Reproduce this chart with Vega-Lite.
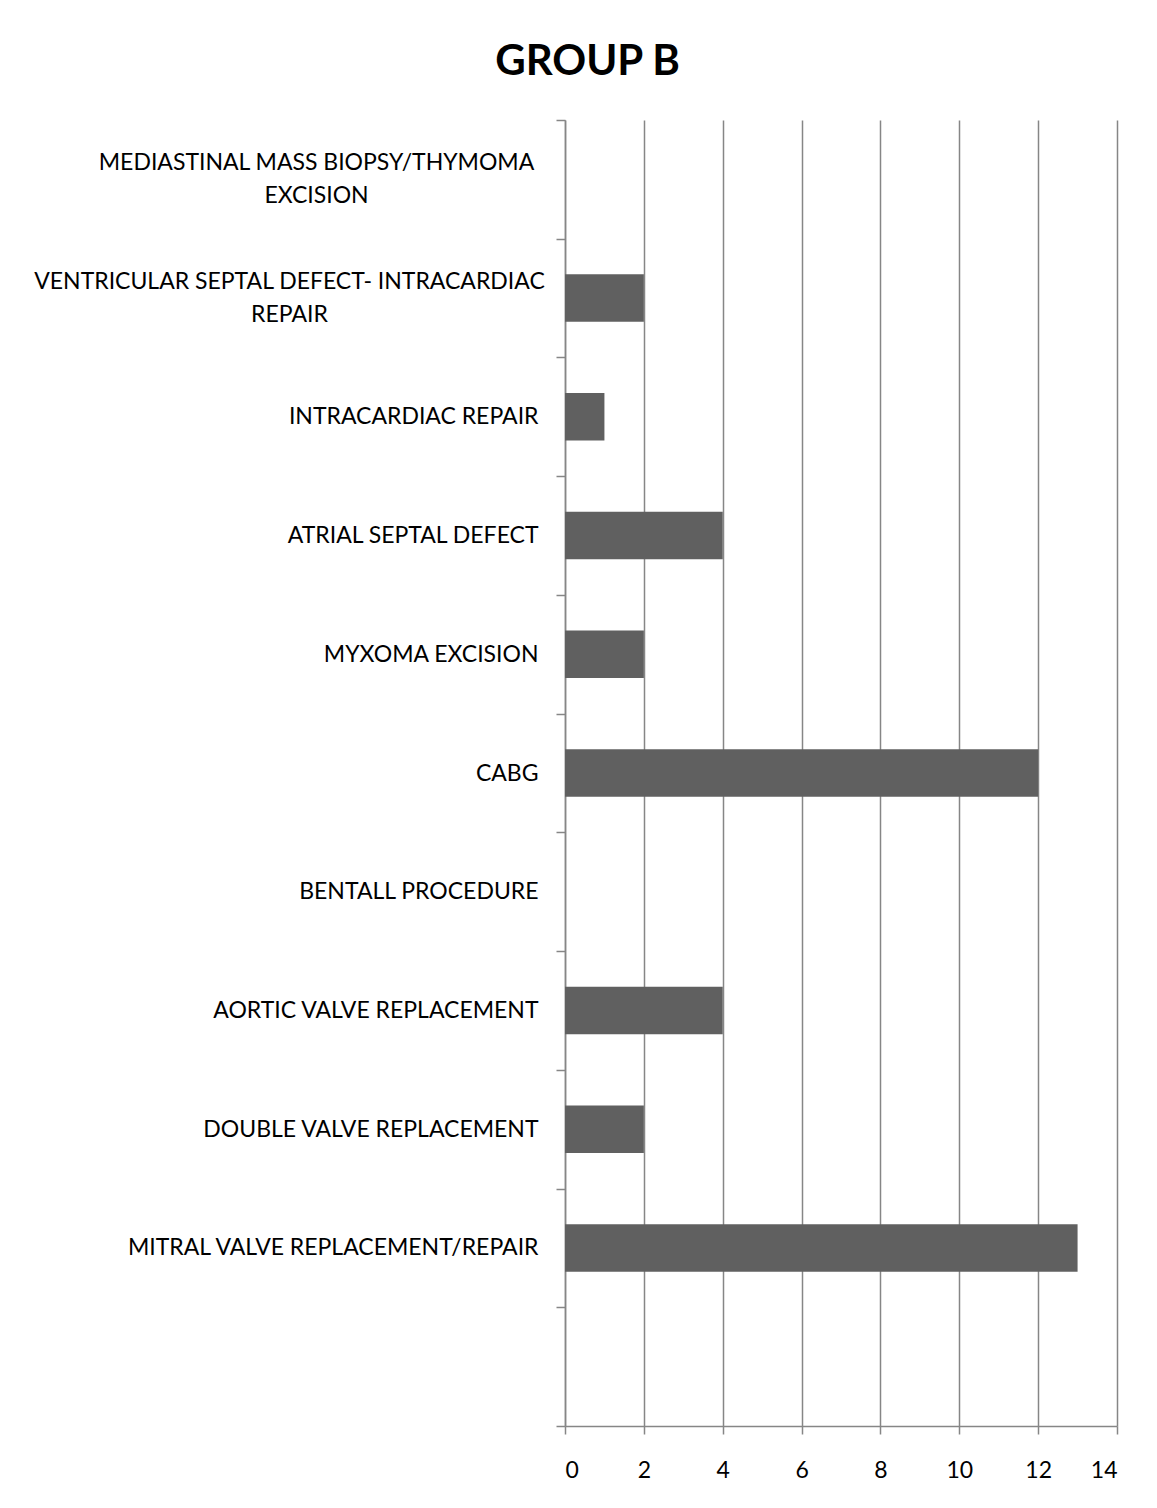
{
  "$schema": "https://vega.github.io/schema/vega-lite/v6.json",
  "width": 552,
  "height": 1306,
  "autosize": {"type": "none"},
  "padding": {"left": 565, "top": 120, "right": 40, "bottom": 82},
  "background": "white",
  "title": {
    "text": "GROUP B",
    "font": "Lato",
    "fontSize": 42,
    "fontWeight": "bold",
    "color": "black",
    "anchor": "middle",
    "frame": "bounds",
    "offset": 25,
    "dx": 12
  },
  "data": {
    "values": [
      {"procedure": "MEDIASTINAL MASS BIOPSY/THYMOMA EXCISION", "count": 0},
      {"procedure": "VENTRICULAR SEPTAL DEFECT- INTRACARDIAC REPAIR", "count": 2},
      {"procedure": "INTRACARDIAC REPAIR", "count": 1},
      {"procedure": "ATRIAL SEPTAL DEFECT", "count": 4},
      {"procedure": "MYXOMA EXCISION", "count": 2},
      {"procedure": "CABG", "count": 12},
      {"procedure": "BENTALL PROCEDURE", "count": 0},
      {"procedure": "AORTIC VALVE REPLACEMENT", "count": 4},
      {"procedure": "DOUBLE VALVE REPLACEMENT", "count": 2},
      {"procedure": "MITRAL VALVE REPLACEMENT/REPAIR", "count": 13},
      {"procedure": " ", "count": 0}
    ]
  },
  "mark": {"type": "bar", "color": "#606060", "height": {"band": 0.4}},
  "encoding": {
    "y": {
      "field": "procedure",
      "type": "nominal",
      "sort": null,
      "scale": {"paddingInner": 0, "paddingOuter": 0},
      "axis": {
        "title": null,
        "domainColor": "#868686",
        "domainWidth": 1.5,
        "tickColor": "#868686",
        "tickWidth": 1.5,
        "tickSize": 9,
        "tickBand": "extent",
        "labelFont": "Lato",
        "labelFontSize": 23,
        "labelColor": "black",
        "labelLimit": 700,
        "labelLineHeight": 33,
        "labelExpr": "datum.value == 'MEDIASTINAL MASS BIOPSY/THYMOMA EXCISION' ? ['MEDIASTINAL MASS BIOPSY/THYMOMA', 'EXCISION'] : datum.value == 'VENTRICULAR SEPTAL DEFECT- INTRACARDIAC REPAIR' ? ['VENTRICULAR SEPTAL DEFECT- INTRACARDIAC', 'REPAIR'] : datum.value",
        "labelAlign": {
          "condition": {"test": "datum.value == 'MEDIASTINAL MASS BIOPSY/THYMOMA EXCISION' || datum.value == 'VENTRICULAR SEPTAL DEFECT- INTRACARDIAC REPAIR'", "value": "center"},
          "value": "right"
        },
        "labelPadding": {
          "condition": [
            {"test": "datum.value == 'MEDIASTINAL MASS BIOPSY/THYMOMA EXCISION'", "value": 240},
            {"test": "datum.value == 'VENTRICULAR SEPTAL DEFECT- INTRACARDIAC REPAIR'", "value": 267}
          ],
          "value": 18
        },
        "labelOffset": {
          "condition": {"test": "datum.value == 'MEDIASTINAL MASS BIOPSY/THYMOMA EXCISION' || datum.value == 'VENTRICULAR SEPTAL DEFECT- INTRACARDIAC REPAIR'", "value": -16.5},
          "value": 0
        }
      }
    },
    "x": {
      "field": "count",
      "type": "quantitative",
      "scale": {"domain": [0, 14], "nice": false},
      "axis": {
        "title": null,
        "values": [0, 2, 4, 6, 8, 10, 12, 14],
        "grid": true,
        "gridColor": "#868686",
        "gridWidth": 1.5,
        "domainColor": "#868686",
        "domainWidth": 1.5,
        "tickColor": "#868686",
        "tickWidth": 1.5,
        "tickSize": 8,
        "labelPadding": 25,
        "labelFont": "Lato",
        "labelFontSize": 23,
        "labelColor": "black"
      }
    }
  },
  "config": {"view": {"stroke": null}}
}
